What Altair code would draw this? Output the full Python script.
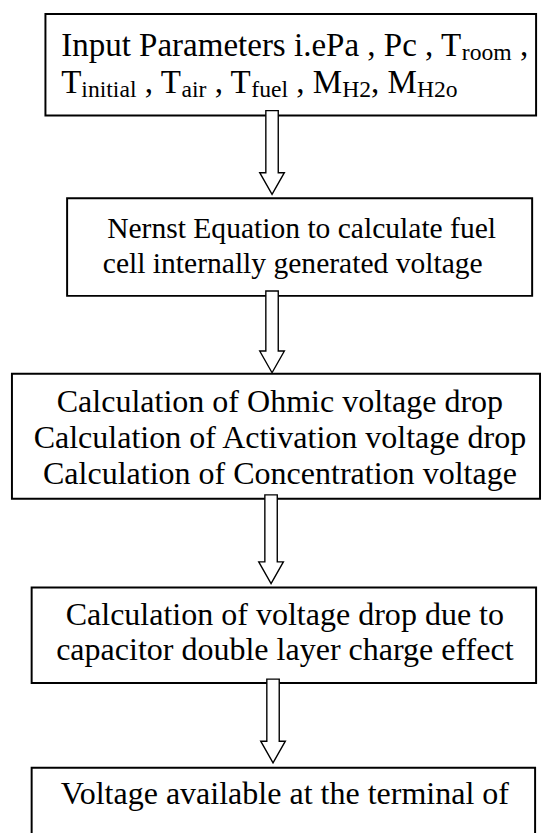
import altair as alt
import pandas as pd

# ---- flowchart content (reference pixel coordinates) ----
box_x1 = [46, 68, 12, 32, 32]
box_x2 = [544, 540, 548, 544, 543]
box_y1 = [8, 195, 373, 590, 773]
box_y2 = [111, 294, 500, 687, 860]

arrow_x = [276, 276, 275, 277]
arrow_top = [106, 289, 496, 683]
arrow_tip = [191, 372, 586, 768]

line_text = [
    "Nernst Equation to calculate fuel",
    "cell internally generated voltage",
    "Calculation of Ohmic voltage drop",
    "Calculation of Activation voltage drop",
    "Calculation of Concentration voltage",
    "Calculation of voltage drop due to",
    "capacitor double layer charge effect",
    "Voltage available at the terminal of",
]
line_cx = [306, 297, 284, 284, 284, 289, 289, 289]
line_base = [235, 271, 412, 448, 485, 628, 664, 810]
line_fs = [30, 30, 32.5, 32.5, 32.5, 32.5, 32.5, 32.5]

# first box: text with subscripts (text, is_subscript)
rich_lines = [
    [("Input Parameters i.ePa , Pc , T", False), ("room", True), (" ,", False)],
    [("T", False), ("initial", True), (" , T", False), ("air", True), (" , T", False),
     ("fuel", True), (" , M", False), ("H2", True), (", M", False), ("H2o", True)],
]
rich_base = [51, 88]
rich_left = 62

# ---- style ----
FONT = "Liberation Serif"
FS1 = 33.5
SUB = 24
SUB_DROP = 4
SHAFT_HALF = 6.3
HEAD_HALF = 12.5
HEAD_LEN = 22.0

# Times / Liberation Serif advance widths (per 1000 em)
W = {" ": 250, ",": 250, ".": 250, "2": 500,
     "A": 722, "C": 667, "E": 611, "H": 722, "I": 333, "M": 889, "N": 722, "O": 722,
     "P": 556, "T": 611, "V": 722,
     "a": 444, "b": 500, "c": 444, "d": 500, "e": 444, "f": 333, "g": 500, "h": 500,
     "i": 278, "l": 278, "m": 778, "n": 500, "o": 500, "p": 500, "q": 500, "r": 333,
     "s": 389, "t": 278, "u": 500, "v": 500, "y": 500}


def tw(s, fs):
    return sum(W.get(c, 500) for c in s) / 1000.0 * fs


boxes = pd.DataFrame({"x1": box_x1, "x2": box_x2, "y1": box_y1, "y2": box_y2})

paths, cy, sz = [], [], []
for t, b in zip(arrow_top, arrow_tip):
    L = b - t
    k = 2.0 / L
    h = (L / 2 - HEAD_LEN) * k
    s, hh = SHAFT_HALF * k, HEAD_HALF * k
    paths.append(
        f"M{-s:.4f},-1L{s:.4f},-1L{s:.4f},{h:.4f}L{hh:.4f},{h:.4f}L0,1"
        f"L{-hh:.4f},{h:.4f}L{-s:.4f},{h:.4f}Z"
    )
    cy.append((t + b) / 2)
    sz.append(L * L)
arrows = pd.DataFrame({"x": arrow_x, "y": cy, "shape": paths, "size": sz})

lines = pd.DataFrame({"text": line_text, "x": line_cx, "y": line_base, "fs": line_fs})

rows = []
for segs, base in zip(rich_lines, rich_base):
    x = rich_left
    for txt, sub in segs:
        fs = SUB if sub else FS1
        lead = len(txt) - len(txt.lstrip(" "))
        x += tw(" " * lead, fs)
        core = txt.strip(" ")
        rows.append({"text": core, "x": x, "y": base + (SUB_DROP if sub else 0), "fs": fs})
        x += tw(txt.lstrip(" "), fs)
rich = pd.DataFrame(rows)

xs = alt.Scale(domain=[8, 550], nice=False, zero=False)
ys = alt.Scale(domain=[8, 833], nice=False, zero=False, reverse=True)

rect_layer = alt.Chart(boxes).mark_rect(fill="white", stroke="black", strokeWidth=2).encode(
    x=alt.X("x1:Q", scale=xs, axis=None), x2="x2:Q",
    y=alt.Y("y1:Q", scale=ys, axis=None), y2="y2:Q",
)

arrow_layer = alt.Chart(arrows).mark_point(
    filled=True, fill="white", stroke="black", strokeWidth=1.4, opacity=1
).encode(
    x=alt.X("x:Q", scale=xs, axis=None),
    y=alt.Y("y:Q", scale=ys, axis=None),
    shape=alt.Shape("shape:N", scale=None, legend=None),
    size=alt.Size("size:Q", scale=None, legend=None),
)

line_layer = alt.Chart(lines).mark_text(
    align="center", baseline="alphabetic", font=FONT, color="black"
).encode(
    x=alt.X("x:Q", scale=xs, axis=None),
    y=alt.Y("y:Q", scale=ys, axis=None),
    text="text:N",
    size=alt.Size("fs:Q", scale=None, legend=None),
)

rich_layer = alt.Chart(rich).mark_text(
    align="left", baseline="alphabetic", font=FONT, color="black"
).encode(
    x=alt.X("x:Q", scale=xs, axis=None),
    y=alt.Y("y:Q", scale=ys, axis=None),
    text="text:N",
    size=alt.Size("fs:Q", scale=None, legend=None),
)

chart = alt.layer(rect_layer, arrow_layer, line_layer, rich_layer).properties(
    width=542, height=825, padding=0, background="white",
    autosize=alt.AutoSizeParams(type="none"),
).configure_view(stroke=None).configure_text(font=FONT)

chart.save("out.html", embed_options={"renderer": "svg", "actions": False})
